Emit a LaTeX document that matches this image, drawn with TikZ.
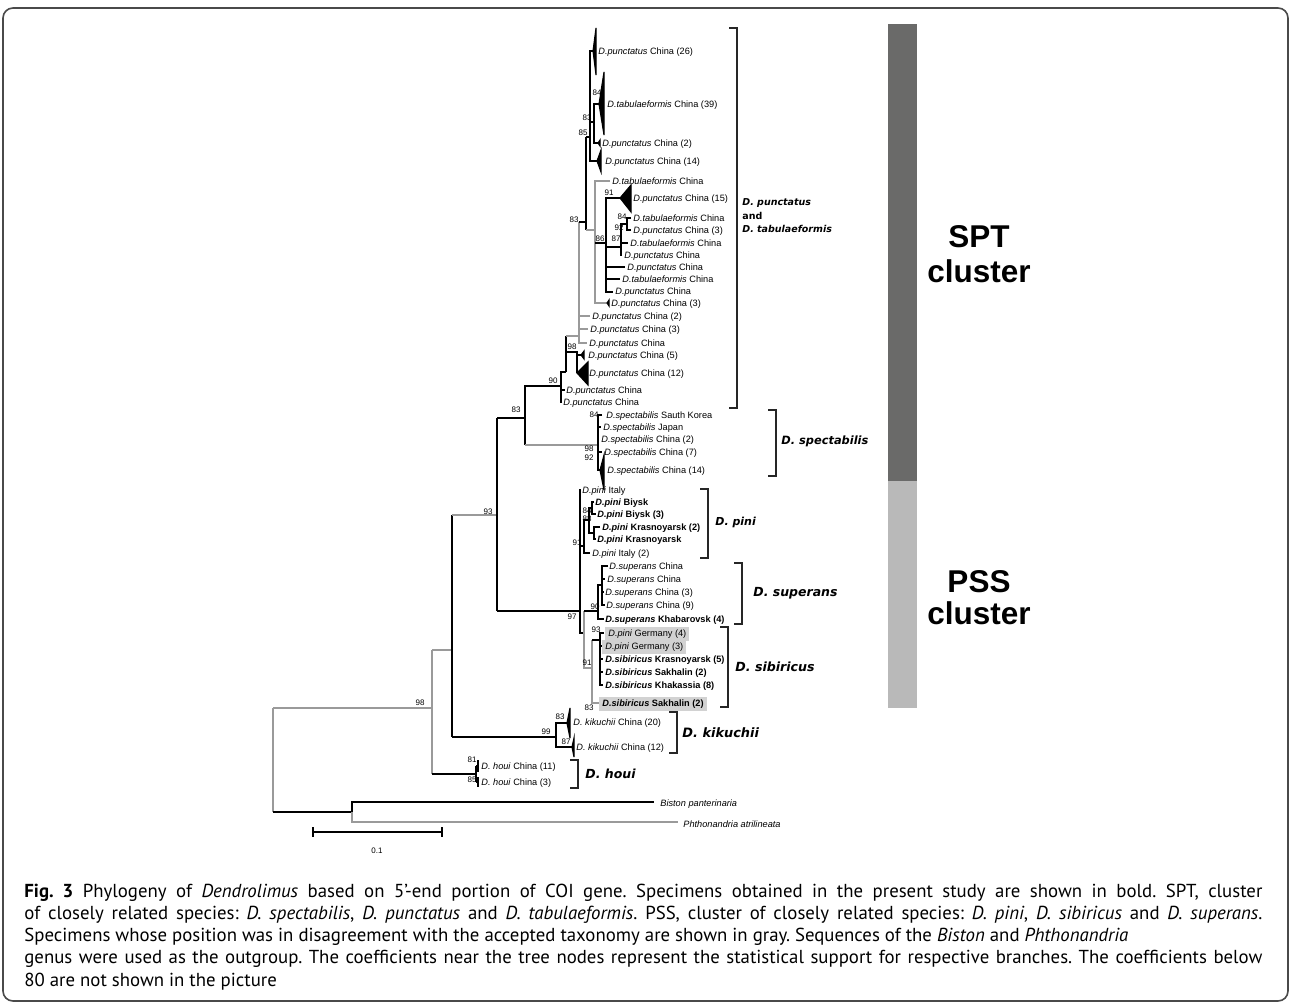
\documentclass[tikz,border=0pt]{standalone}
\usepackage{fontspec}
\setmainfont{Liberation Sans}
\newfontfamily\capfont{PT Sans}
\newfontfamily\grpfont{DejaVu Sans}
\definecolor{darkbar}{HTML}{6A6A69}
\definecolor{lightbar}{HTML}{B9B9B9}
\definecolor{graybr}{HTML}{9A9A9A}
\definecolor{boxgray}{HTML}{D2D2D2}
\definecolor{framec}{HTML}{4A4A4A}
\newcommand\lfs{\fontsize{4.6pt}{5pt}\selectfont}
\newcommand\ctri[5]{\filldraw[br] (#1,#2) -- (#3,#4) -- (#3,#5) -- cycle;}
\newcommand\grpf[1]{\grpfont\bfseries\itshape\fontsize{#1}{#1}\selectfont}
\tikzset{
 br/.style={line width=0.55pt, black},
 brg/.style={line width=0.55pt, graybr},
 leaf/.style={anchor=base west, inner sep=0pt, font=\lfs, yshift=-1.6pt},
 hl/.style={leaf, fill=boxgray, inner xsep=1.5pt, inner ysep=1.2pt, text height=3.5pt, text depth=1.1pt, xshift=-1.5pt},
 bs/.style={font=\fontsize{4pt}{4pt}\selectfont, inner sep=0pt},
 bk/.style={line width=0.8pt, black!85},
 grp/.style={anchor=west, inner sep=0pt},
 clu/.style={anchor=base, inner sep=0pt, font=\bfseries\fontsize{15.75pt}{18pt}\selectfont},
 captxt/.style={anchor=base west, inner sep=0pt, font=\capfont\fontsize{9.4pt}{11pt}\selectfont\frenchspacing},
}
\begin{document}
\begin{tikzpicture}[x=0.5pt,y=-0.5pt]
\useasboundingbox (0,0) rectangle (1292,1006);
% frame
\draw[framec, line width=0.8pt, rounded corners=5pt] (3,8) rectangle (1288,1001);
% cluster bars
\fill[darkbar] (888,24) rectangle (917,481);
\fill[lightbar] (888,481) rectangle (917,708);
\node[clu] (spt1) at (979,248) {SPT};
\node[clu] (spt2) at (979,282) {cluster};
\node[clu] (pss1) at (979,592) {PSS};
\node[clu] (pss2) at (979,624) {cluster};

% ---------------- root and outgroup
\draw[brg] (273,708) -- (273,812);
\draw[brg] (273,708) -- (432,708);
\draw[br] (273,812) -- (352,812);
\draw[br] (352,812) -- (352,802) -- (654,802);
\draw[brg] (352,812) -- (352,822) -- (678,822);
% ingroup
\draw[brg] (432,650) -- (432,774);
\draw[br] (432,774) -- (476,774);
\draw[br] (476,766) -- (476,782);
\draw[br] (476,766) -- (478,766);
\draw[br] (476,782) -- (478,782);
\draw[br] (478,760) -- (478,772);
\draw[br] (478,777) -- (478,787);
\draw[brg] (432,650) -- (452,650);
\draw[br] (452,515) -- (452,737);
\draw[brg] (452,515) -- (497,515);
\draw[br] (452,737) -- (556,737);
\draw[br] (567,723) -- (556,723) -- (556,747) -- (572,747);
\ctri{567}{723}{570}{708}{738}
\ctri{572}{747}{574}{738}{757}
% K node
\draw[br] (497,418) -- (497,611);
\draw[br] (497,418) -- (525,418);
\draw[br] (561,386) -- (525,386) -- (525,445);
\draw[brg] (525,445) -- (598,445);
\draw[br] (497,611) -- (580,611);
% spectabilis
\draw[br] (602,415) -- (598,415) -- (598,470) -- (600,470);
\draw[br] (598,427) -- (601,427);
\draw[br] (598,439) -- (599,439);
\draw[br] (598,452) -- (602,452);
\ctri{600}{470}{604}{455}{490}
% PSS
\draw[br] (581,490) -- (580,490) -- (580,633) -- (584,633);
\draw[br] (580,546) -- (584,546);
\draw[br] (589,520) -- (584,520) -- (584,553) -- (590,553);
\draw[br] (592,508) -- (589,508) -- (589,533) -- (594,533);
\draw[br] (594,502) -- (592,502) -- (592,514) -- (596,514);
\draw[br] (600,527) -- (594,527) -- (594,539) -- (596,539);
\draw[brg] (584,611) -- (584,668) -- (592,668);
\draw[br] (584,611) -- (598,611);
\draw[br] (602,585) -- (598,585) -- (598,619) -- (604,619);
\draw[br] (608,566) -- (602,566) -- (602,605) -- (605,605);
\draw[br] (602,579) -- (605,579);
\draw[br] (602,592) -- (604,592);
\draw[brg] (592,640) -- (592,703) -- (600,703);
\draw[br] (592,640) -- (600,640);
\draw[br] (604,633) -- (600,633) -- (600,685) -- (603,685);
\foreach \yy in {646,659,672} \draw[br] (600,\yy) -- (603,\yy);
% SPT punctatus / tabulaeformis
\draw[br] (562,402) -- (561,402) -- (561,372) -- (566,372);
\draw[br] (561,390) -- (565,390);
\draw[br] (566,336) -- (566,372);
\draw[br] (566,352) -- (577,352) -- (577,373);
\draw[br] (577,355) -- (581,355);
\ctri{581}{355}{584}{351}{359}
\ctri{577}{373}{588}{362}{385}
\draw[brg] (566,336) -- (579,336);
\draw[brg] (579,222) -- (579,343) -- (587,343);
\draw[brg] (579,329) -- (588,329);
\draw[brg] (579,316) -- (590,316);
\draw[br] (579,222) -- (586,222);
\draw[br] (586,137) -- (586,230);
\draw[br] (586,137) -- (590,137);
\draw[br] (593,51) -- (590,51) -- (590,161) -- (597,161);
\ctri{593}{51}{596}{28}{75}
\draw[br] (590,122) -- (594,122);
\draw[br] (599,104) -- (594,104) -- (594,143) -- (598,143);
\ctri{599}{104}{604}{72}{135}
\ctri{598}{143}{600}{140}{146}
\ctri{597}{161}{601}{150}{172}
\draw[brg] (586,230) -- (595,230);
\draw[brg] (610,181) -- (595,181) -- (595,303) -- (607,303);
\ctri{607}{303}{609}{300}{306}
\draw[br] (595,243) -- (606,243);
\draw[br] (620,198) -- (606,198) -- (606,292) -- (613,292);
\ctri{620}{198}{631}{185}{212}
\draw[br] (606,247) -- (621,247);
\draw[br] (627,224) -- (621,224) -- (621,255) -- (622,255);
\draw[br] (631,218) -- (627,218) -- (627,230) -- (631,230);
\draw[br] (621,243) -- (628,243);
\draw[br] (606,267) -- (625,267);
\draw[br] (606,279) -- (620,279);

% ---------------- leaf labels
\node[leaf] (l1) at (598,51) {\textit{D.punctatus} China (26)};
\node[leaf] (l2) at (607,104) {\textit{D.tabulaeformis} China (39)};
\node[leaf] (l3) at (602,143) {\textit{D.punctatus} China (2)};
\node[leaf] (l4) at (605,161) {\textit{D.punctatus} China (14)};
\node[leaf] (l5) at (612,181) {\textit{D.tabulaeformis} China};
\node[leaf] (l6) at (633,198) {\textit{D.punctatus} China (15)};
\node[leaf] (l7) at (633,218) {\textit{D.tabulaeformis} China};
\node[leaf] (l8) at (633,230) {\textit{D.punctatus} China (3)};
\node[leaf] (l9) at (630,243) {\textit{D.tabulaeformis} China};
\node[leaf] (l10) at (624,255) {\textit{D.punctatus} China};
\node[leaf] (l11) at (627,267) {\textit{D.punctatus} China};
\node[leaf] (l12) at (622,279) {\textit{D.tabulaeformis} China};
\node[leaf] (l13) at (615,291) {\textit{D.punctatus} China};
\node[leaf] (l14) at (611,303) {\textit{D.punctatus} China (3)};
\node[leaf] (l15) at (592,316) {\textit{D.punctatus} China (2)};
\node[leaf] (l16) at (590,329) {\textit{D.punctatus} China (3)};
\node[leaf] (l17) at (589,343) {\textit{D.punctatus} China};
\node[leaf] (l18) at (588,355) {\textit{D.punctatus} China (5)};
\node[leaf] (l19) at (589,373) {\textit{D.punctatus} China (12)};
\node[leaf] (l20) at (566,390) {\textit{D.punctatus} China};
\node[leaf] (l21) at (563,402) {\textit{D.punctatus} China};
\node[leaf] (l22) at (606,415) {\textit{D.spectabilis} Sauth Korea};
\node[leaf] (l23) at (603,427) {\textit{D.spectabilis} Japan};
\node[leaf] (l24) at (601,439) {\textit{D.spectabilis} China (2)};
\node[leaf] (l25) at (604,452) {\textit{D.spectabilis} China (7)};
\node[leaf] (l26) at (607,470) {\textit{D.spectabilis} China (14)};
\node[leaf] (l27) at (582,490) {\textit{D.pini} Italy};
\node[leaf] (l28) at (595,502) {\textbf{\textit{D.pini} Biysk}};
\node[leaf] (l29) at (597,514) {\textbf{\textit{D.pini} Biysk (3)}};
\node[leaf] (l30) at (602,527) {\textbf{\textit{D.pini} Krasnoyarsk (2)}};
\node[leaf] (l31) at (597,539) {\textbf{\textit{D.pini} Krasnoyarsk}};
\node[leaf] (l32) at (592,553) {\textit{D.pini} Italy (2)};
\node[leaf] (l33) at (609,566) {\textit{D.superans} China};
\node[leaf] (l34) at (607,579) {\textit{D.superans} China};
\node[leaf] (l35) at (605,592) {\textit{D.superans} China (3)};
\node[leaf] (l36) at (606,605) {\textit{D.superans} China (9)};
\node[leaf] (l37) at (605,619) {\textbf{\textit{D.superans} Khabarovsk (4)}};
\node[hl] (l38) at (608,633) {\textit{D.pini} Germany (4)};
\node[hl] (l39) at (605,646) {\textit{D.pini} Germany (3)};
\node[leaf] (l40) at (605,659) {\textbf{\textit{D.sibiricus} Krasnoyarsk (5)}};
\node[leaf] (l41) at (605,672) {\textbf{\textit{D.sibiricus} Sakhalin (2)}};
\node[leaf] (l42) at (605,685) {\textbf{\textit{D.sibiricus} Khakassia (8)}};
\node[hl] (l43) at (602,703) {\textbf{\textit{D.sibiricus} Sakhalin (2)}};
\node[leaf] (l44) at (573,722) {\textit{D. kikuchii} China (20)};
\node[leaf] (l45) at (576,747) {\textit{D. kikuchii} China (12)};
\node[leaf] (l46) at (481,766) {\textit{D. houi} China (11)};
\node[leaf] (l47) at (481,782) {\textit{D. houi} China (3)};
\node[leaf] (l48) at (660,803) {\textit{Biston panterinaria}};
\node[leaf] (l49) at (683,824) {\textit{Phthonandria atrilineata}};

% ---------------- bootstrap values
\node[bs] (b1) at (597,93) {84};
\node[bs] (b2) at (587,118) {83};
\node[bs] (b3) at (583,133) {85};
\node[bs] (b4) at (609,193) {91};
\node[bs] (b5) at (574,220) {83};
\node[bs] (b6) at (622,217) {84};
\node[bs] (b7) at (619,228) {92};
\node[bs] (b8) at (616,239) {87};
\node[bs] (b9) at (600,239) {86};
\node[bs] (b10) at (572,347) {98};
\node[bs] (b11) at (553,381) {90};
\node[bs] (b12) at (516,410) {83};
\node[bs] (b13) at (594,415) {84};
\node[bs] (b14) at (589,449) {98};
\node[bs] (b15) at (589,458) {92};
\node[bs] (b16) at (488,512) {93};
\node[bs] (b17) at (587,511) {84};
\node[bs] (b18) at (587,519) {88};
\node[bs] (b19) at (577,543) {91};
\node[bs] (b20) at (595,607) {90};
\node[bs] (b21) at (572,617) {97};
\node[bs] (b22) at (596,630) {93};
\node[bs] (b23) at (587,663) {91};
\node[bs] (b24) at (589,708) {83};
\node[bs] (b25) at (420,703) {98};
\node[bs] (b26) at (560,717) {83};
\node[bs] (b27) at (546,732) {99};
\node[bs] (b28) at (566,742) {87};
\node[bs] (b29) at (472,760) {81};
\node[bs] (b30) at (472,780) {85};

% ---------------- brackets and group names
\draw[bk] (729,28) -- (737,28) -- (737,408) -- (729,408);
\draw[bk] (768,410) -- (776,410) -- (776,476) -- (768,476);
\draw[bk] (700,489) -- (708,489) -- (708,558) -- (700,558);
\draw[bk] (734,563) -- (742,563) -- (742,624) -- (734,624);
\draw[bk] (720,627) -- (728,627) -- (728,707) -- (720,707);
\draw[bk] (669,712) -- (677,712) -- (677,753) -- (669,753);
\draw[bk] (570,760) -- (578,760) -- (578,788) -- (570,788);
\node[grp, font=\grpf{4.75pt}] (g1a) at (742,203) {D. punctatus};
\node[grp, font=\grpfont\bfseries\fontsize{4.75pt}{4.75pt}\selectfont] (g1b) at (742,216) {and};
\node[grp, font=\grpf{4.75pt}] (g1c) at (742,229) {D. tabulaeformis};
\node[grp, font=\grpf{5.7pt}] (g2) at (781,441) {D. spectabilis};
\node[grp, font=\grpf{5.5pt}] (g3) at (715,522) {D. pini};
\node[grp, font=\grpf{6.25pt}] (g4) at (753,593) {D. superans};
\node[grp, font=\grpf{6.3pt}] (g5) at (735,667) {D. sibiricus};
\node[grp, font=\grpf{6.45pt}] (g6) at (682,733) {D. kikuchii};
\node[grp, font=\grpf{6.25pt}] (g7) at (585,774) {D. houi};

% ---------------- scale bar
\draw[br] (313,832) -- (442,832);
\draw[br] (313,827) -- (313,837);
\draw[br] (442,827) -- (442,837);
\node[bs] (sc) at (377,851) {0.1};

% ---------------- caption
\node[captxt] (c1) at (24,897) {\hbox to 619pt{\textbf{Fig. 3} Phylogeny of \textit{Dendrolimus} based on 5’-end portion of COI gene. Specimens obtained in the present study are shown in bold. SPT, cluster}};
\node[captxt] (c2) at (24,919) {\hbox to 619pt{of closely related species: \textit{D. spectabilis}, \textit{D. punctatus} and \textit{D. tabulaeformis}. PSS, cluster of closely related species: \textit{D. pini}, \textit{D. sibiricus} and \textit{D. superans}.}};
\node[captxt] (c3) at (24,941) {Specimens whose position was in disagreement with the accepted taxonomy are shown in gray. Sequences of the \textit{Biston} and \textit{Phthonandria}};
\node[captxt] (c4) at (24,963) {\hbox to 619pt{genus were used as the outgroup. The coefficients near the tree nodes represent the statistical support for respective branches. The coefficients below}};
\node[captxt] (c5) at (24,986) {80 are not shown in the picture};
\end{tikzpicture}
\end{document}
